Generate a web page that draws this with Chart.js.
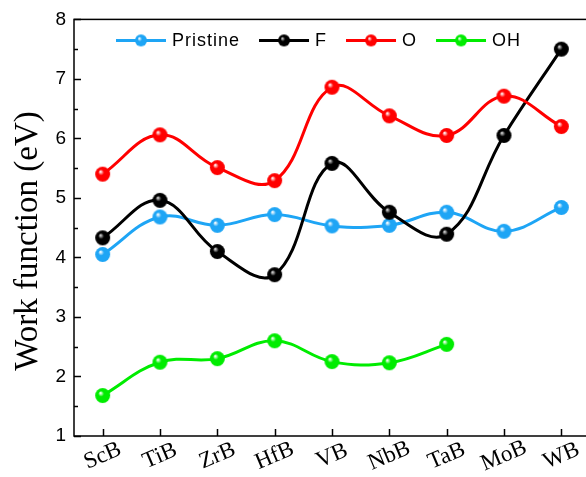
<!DOCTYPE html>
<html>
<head>
<meta charset="utf-8">
<title>Work function</title>
<script src="https://cdn.jsdelivr.net/npm/chart.js@4.4.1/dist/chart.umd.min.js"></script>
<style>
  html, body { margin: 0; padding: 0; background: #fff; overflow: hidden; }
  #wrap { width: 586px; height: 477px; overflow: hidden; }
</style>
</head>
<body>
<div id="wrap"><canvas id="chart" width="600" height="477"></canvas></div>
<script>
// boride surfaces and terminations
const categories = ['ScB', 'TiB', 'ZrB', 'HfB', 'VB', 'NbB', 'TaB', 'MoB', 'WB'];
const seriesNames = ['Pristine', 'F', 'O', 'OH'];
const seriesColors = ['#1ea5f5', '#000000', '#ff0000', '#00ec00'];

// work function, eV
const pristine = [4.05, 4.68, 4.54, 4.72, 4.53, 4.54, 4.76, 4.44, 4.84];
const fluorine = [4.33, 4.96, 4.10, 3.71, 5.58, 4.76, 4.39, 6.05, 7.50];
const oxygen   = [5.40, 6.06, 5.51, 5.29, 6.86, 6.38, 6.05, 6.71, 6.20];
const hydroxyl = [1.68, 2.24, 2.30, 2.60, 2.25, 2.23, 2.54, null, null];

const yMin = 1, yMax = 8, yStep = 1;
const yTitle = 'Work function (eV)';

// shaded sphere used as point marker
function ball(color, r) {
  const s = Math.ceil(r * 2 + 2);
  const c = document.createElement('canvas');
  c.width = c.height = s;
  const g = c.getContext('2d');
  const m = s / 2;
  const grad = g.createRadialGradient(m - r * 0.3, m - r * 0.35, r * 0.05, m, m, r);
  grad.addColorStop(0, color === '#000000' ? '#d8d8d8' : '#ffffff');
  grad.addColorStop(0.35, color);
  grad.addColorStop(1, color);
  g.fillStyle = grad;
  g.beginPath();
  g.arc(m, m, r, 0, Math.PI * 2);
  g.fill();
  return c;
}

const allData = [pristine, fluorine, oxygen, hydroxyl];
const datasets = allData.map((d, i) => ({
  label: seriesNames[i],
  data: d,
  borderColor: seriesColors[i],
  borderWidth: 3,
  tension: 0.4,
  pointStyle: ball(seriesColors[i], 7.5),
  pointRadius: 7,
  order: 4 - i,
  fill: false
}));

const decor = {
  id: 'decor',
  afterDraw(chart) {
    const { ctx, chartArea: a, scales: { x, y } } = chart;
    ctx.save();
    ctx.strokeStyle = '#000';
    ctx.lineWidth = 1.5;
    ctx.strokeRect(a.left, a.top, a.right - a.left, a.bottom - a.top);

    // inward ticks
    ctx.beginPath();
    for (let v = yMin; v <= yMax; v += yStep / 2) {
      const py = Math.round(y.getPixelForValue(v)) + 0.5;
      const len = Number.isInteger(v) ? 7 : 4;
      ctx.moveTo(a.left, py); ctx.lineTo(a.left + len, py);
    }
    categories.forEach((c, i) => {
      const px = Math.round(x.getPixelForValue(i)) + 0.5;
      ctx.moveTo(px, a.bottom); ctx.lineTo(px, a.bottom - 7);
    });
    ctx.stroke();

    // category labels, tilted
    ctx.fillStyle = '#000';
    ctx.font = '23px "Liberation Serif", "Times New Roman", serif';
    ctx.textAlign = 'center';
    ctx.textBaseline = 'middle';
    categories.forEach((c, i) => {
      ctx.save();
      ctx.translate(x.getPixelForValue(i), a.bottom + 20);
      ctx.rotate(-23 * Math.PI / 180);
      ctx.fillText(c, 0, 0);
      ctx.restore();
    });

    // axis title
    ctx.save();
    ctx.font = '33px "Liberation Serif", "Times New Roman", serif';
    ctx.translate(28, 241);
    ctx.rotate(-Math.PI / 2);
    ctx.fillText(yTitle, 0, 0);
    ctx.restore();

    // legend row
    ctx.font = '18px "Liberation Sans", Arial, sans-serif';
    ctx.letterSpacing = '1px';
    ctx.textAlign = 'left';
    let lx = a.left + 42;
    const ly = a.top + 21;
    seriesNames.forEach((n, i) => {
      ctx.strokeStyle = seriesColors[i];
      ctx.lineWidth = 3;
      ctx.beginPath();
      ctx.moveTo(lx, ly); ctx.lineTo(lx + 50, ly);
      ctx.stroke();
      const b = ball(seriesColors[i], 6);
      ctx.drawImage(b, lx + 25 - b.width / 2, ly - b.height / 2);
      ctx.fillStyle = '#000';
      ctx.fillText(n, lx + 56, ly + 1);
      lx += 56 + ctx.measureText(n).width + 19;
    });
    ctx.restore();
  }
};

new Chart(document.getElementById('chart'), {
  type: 'line',
  data: { labels: categories, datasets },
  options: {
    responsive: false,
    animation: false,
    devicePixelRatio: 1,
    layout: { padding: { top: 19, right: 9, left: 0, bottom: 0 } },
    plugins: { legend: { display: false }, tooltip: { enabled: false } },
    scales: {
      x: {
        type: 'category',
        offset: true,
        grid: { display: false, drawTicks: false },
        border: { display: false },
        ticks: { display: false },
        afterFit(s) { s.height = 41; }
      },
      y: {
        min: yMin,
        max: yMax,
        grid: { display: false, drawTicks: false },
        border: { display: false },
        ticks: {
          stepSize: yStep,
          padding: 8,
          color: '#000',
          font: { family: '"Liberation Sans", Arial, sans-serif', size: 19 }
        },
        afterFit(s) { s.width = 74; }
      }
    }
  },
  plugins: [decor]
});
</script>
</body>
</html>
